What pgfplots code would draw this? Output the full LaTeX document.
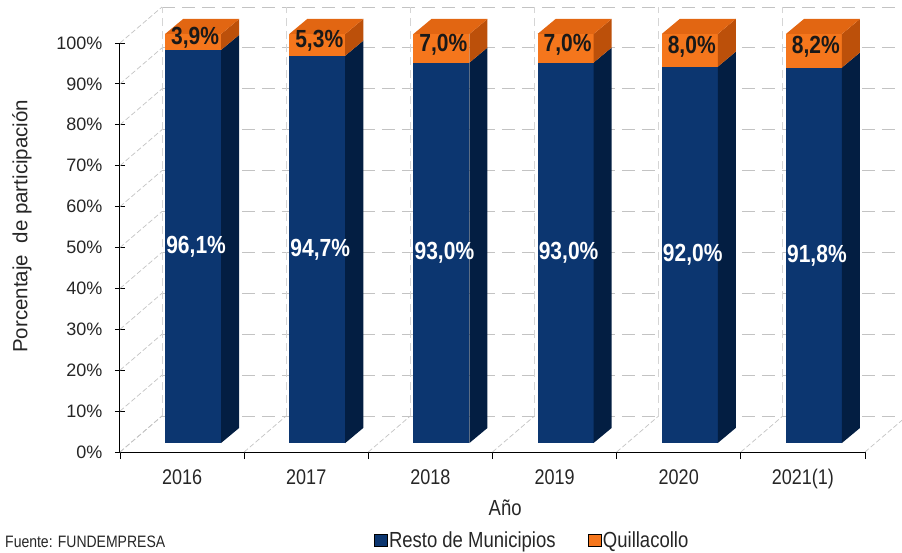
\documentclass[border=0pt]{standalone}
\usepackage{graphicx}
\usepackage{pgfplots}
\pgfplotsset{compat=1.18}
\usepackage{pgfplotstable}
\usepackage{fontspec}
\setmainfont{Liberation Sans}
\definecolor{cblue}{RGB}{12,54,112}
\definecolor{cblueside}{RGB}{3,30,66}
\definecolor{corange}{RGB}{245,118,28}
\definecolor{corangetop}{RGB}{226,102,18}
\definecolor{corangeside}{RGB}{188,80,10}
\definecolor{cgrid}{RGB}{195,195,195}
\newcommand\vs[1]{\scalebox{1}[1.18]{#1}}

\pgfplotstableread{
x resto quilla
0 96.1 3.9
1 94.7 5.3
2 93.0 7.0
3 93.0 7.0
4 92.0 8.0
5 91.8 8.2
}\datatable

\def\BX{0.338}\def\BY{8.8}
\def\FX{0.0886}\def\FY{2.2}
\def\DX{0.145}\def\DY{3.67}
\def\HW{0.2255}

\begin{document}
\begin{tikzpicture}
\useasboundingbox (0,0) rectangle (902pt,552pt);
\begin{axis}[
  at={(120pt,100pt)}, anchor=south west,
  scale only axis, width=745pt, height=409pt,
  xmin=-0.5, xmax=5.5, ymin=0, ymax=100,
  clip=false,
  axis lines*=left,
  axis line style={black, line width=1pt},
  xtick={0,...,5},
  xticklabels={\vs{2016},\vs{2017},\vs{2018},\vs{2019},\vs{2020},\vs{2021(1)}},
  minor xtick={-0.5,0.5,...,5.5},
  ytick={0,10,...,100},
  yticklabels={0\%,10\%,20\%,30\%,40\%,50\%,60\%,70\%,80\%,90\%,100\%},
  tick align=center,
  major tick length=10pt,
  minor tick length=7pt,
  major x tick style={draw=none},
  minor x tick style={black, line width=0.8pt, yshift=-3.5pt},
  y tick style={black, line width=0.8pt},
  ticklabel style={font=\fontsize{18}{20}\selectfont, text=black!85},
  xticklabel style={yshift=-9pt},
  yticklabel style={xshift=-9pt},
  xlabel={\vs{Año}},
  xlabel style={at={(axis description cs:0.517,-0.137)}, anchor=center, font=\fontsize{18.5}{20}\selectfont, text=black!85},
  ylabel={Porcentaje\ \ de participación},
  ylabel style={at={(axis description cs:-0.1315,0.552)}, anchor=center, font=\fontsize{20.5}{22}\selectfont, text=black!85},
  legend style={at={(axis description cs:0.553,-0.215)}, anchor=center, draw=none, fill=none,
    legend columns=2, font=\fontsize{18.5}{20}\selectfont, text=black!85,
    /tikz/every even column/.append style={column sep=30pt}},
  legend image code/.code={\fill[#1] (0pt,-6pt) rectangle (13pt,6pt);},
  /pgf/number format/assume math mode=true,
]
\addlegendimage{fill=cblue}
\addlegendentry{\vs{Resto de Municipios}}
\addlegendimage{fill=corange}
\addlegendentry{\vs{Quillacollo}}

% gridlines (back wall, left wall, floor)
\pgfmathsetmacro\xL{-0.5}
\pgfmathsetmacro\xLb{-0.5+\BX}
\pgfmathsetmacro\xRb{5.5+\BX}
\pgfplotsforeachungrouped \kk in {0,10,...,100}{%
  \pgfmathsetmacro\yk{\kk+\BY}%
  \edef\tmp{\noexpand\addplot[cgrid, line width=1pt, dash pattern=on 13pt off 7pt, forget plot] coordinates {(\xLb,\yk) (\xRb,\yk)};
            \noexpand\addplot[cgrid, line width=0.7pt, dash pattern=on 5pt off 2.5pt, forget plot] coordinates {(\xL,\kk) (\xLb,\yk)};}%
  \tmp
}
\pgfmathsetmacro\yt{100+\BY}
\pgfplotsforeachungrouped \jj in {-0.5,0.5,1.5,2.5,3.5,4.5,5.5}{%
  \pgfmathsetmacro\xj{\jj+\BX}%
  \edef\tmp{\noexpand\addplot[cgrid, line width=0.7pt, dash pattern=on 5pt off 2.5pt, forget plot] coordinates {(\jj,0) (\xj,\BY)};
            \noexpand\addplot[cgrid!70, line width=0.8pt, dash pattern=on 8pt off 5pt, forget plot] coordinates {(\xj,\BY) (\xj,\yt)};}%
  \tmp
}

% bars
\pgfplotsforeachungrouped \ii in {0,...,5}{%
  \pgfplotstablegetelem{\ii}{resto}\of\datatable \let\vR\pgfplotsretval
  \pgfplotstablegetelem{\ii}{quilla}\of\datatable \let\vQ\pgfplotsretval
  \pgfmathsetmacro\xa{\ii+\FX-\HW}%
  \pgfmathsetmacro\xb{\ii+\FX+\HW}%
  \pgfmathsetmacro\xc{\xb+\DX}%
  \pgfmathsetmacro\xd{\xa+\DX}%
  \pgfmathsetmacro\ya{\FY}%
  \pgfmathsetmacro\yb{\FY+\vR}%
  \pgfmathsetmacro\yc{\FY+\vR+\vQ}%
  \pgfmathsetmacro\yad{\ya+\DY}%
  \pgfmathsetmacro\ybd{\yb+\DY}%
  \pgfmathsetmacro\ycd{\yc+\DY}%
  \edef\tmp{%
    \noexpand\addplot[fill=cblue, draw=none, forget plot] coordinates {(\xa,\ya) (\xb,\ya) (\xb,\yb) (\xa,\yb)} -- cycle;
    \noexpand\addplot[fill=cblueside, draw=none, forget plot] coordinates {(\xb,\ya) (\xc,\yad) (\xc,\ybd) (\xb,\yb)} -- cycle;
    \noexpand\addplot[fill=corange, draw=none, forget plot] coordinates {(\xa,\yb) (\xb,\yb) (\xb,\yc) (\xa,\yc)} -- cycle;
    \noexpand\addplot[fill=corangeside, draw=none, forget plot] coordinates {(\xb,\yb) (\xc,\ybd) (\xc,\ycd) (\xb,\yc)} -- cycle;
    \noexpand\addplot[fill=corangetop, draw=none, forget plot] coordinates {(\xa,\yc) (\xb,\yc) (\xc,\ycd) (\xd,\ycd)} -- cycle;
  }\tmp
}

% labels
\addplot[draw=none, mark=none, forget plot,
  point meta=\thisrow{resto},
  nodes near coords={\vs{\pgfmathprintnumber[fixed,fixed zerofill,precision=1,use comma]{\pgfplotspointmeta}\%}},
  every node near coord/.append style={anchor=center, xshift=3pt, text=white, font=\bfseries\fontsize{21}{22}\selectfont}]
  table[x expr=\thisrow{x}+\FX, y expr=\FY+\thisrow{resto}/2]{\datatable};
\addplot[draw=none, mark=none, forget plot,
  point meta=\thisrow{quilla},
  nodes near coords={\vs{\pgfmathprintnumber[fixed,fixed zerofill,precision=1,use comma]{\pgfplotspointmeta}\%}},
  every node near coord/.append style={anchor=center, xshift=2pt, yshift=4pt, text=black!90, font=\bfseries\fontsize{21}{22}\selectfont}]
  table[x expr=\thisrow{x}+\FX, y expr=\FY+\thisrow{resto}+\thisrow{quilla}/2]{\datatable};
\end{axis}
\node[anchor=north west, inner sep=0pt, font=\fontsize{14}{16}\selectfont, text=black!85] at (5pt,16pt) {\vs{Fuente: FUNDEMPRESA}};
\end{tikzpicture}
\end{document}
